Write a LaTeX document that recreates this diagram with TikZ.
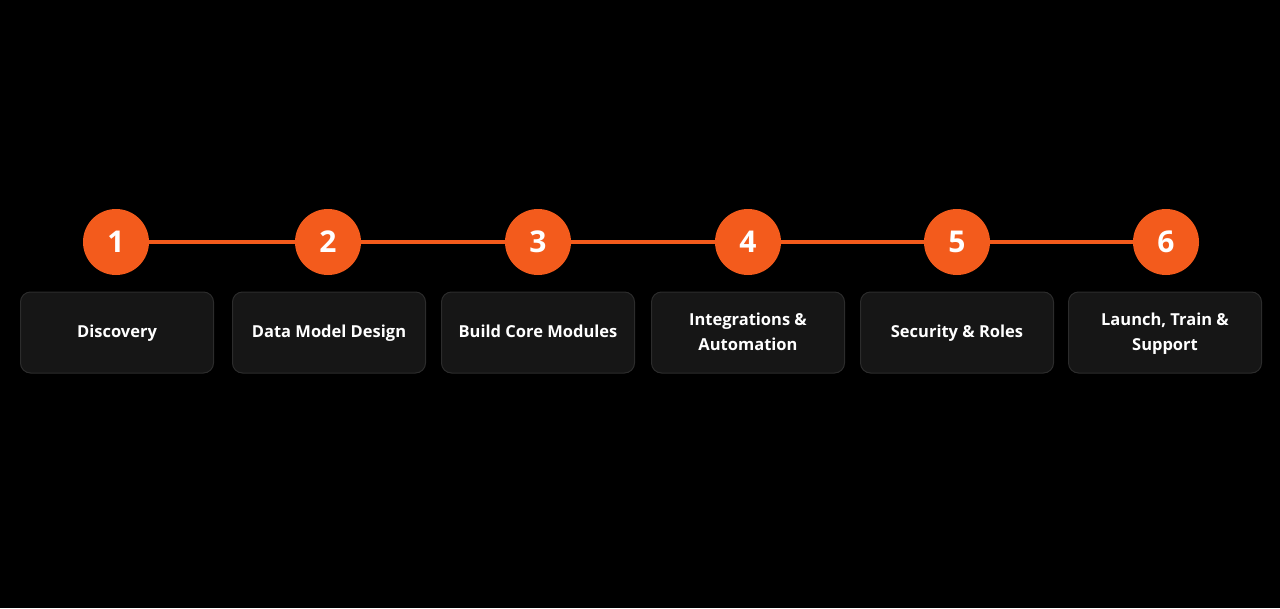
\documentclass[tikz,border=0pt]{standalone}
\usepackage{fontspec}
\setmainfont{Open Sans}
\definecolor{orng}{HTML}{F35B1C}
\definecolor{boxbg}{HTML}{161616}
\definecolor{boxln}{HTML}{2C2C2C}
\newcommand{\lnx}[1]{\strut #1}
\begin{document}
\begin{tikzpicture}[x=1pt,y=-1pt,
  stepnum/.style={circle,fill=orng,minimum size=66pt,inner sep=0pt,text=white,font=\fontsize{30}{30}\selectfont\bfseries},
  stepbox/.style={rectangle,rounded corners=10pt,fill=boxbg,draw=boxln,line width=1pt,minimum width=193pt,minimum height=81pt,text=white,align=center,inner sep=0pt,font=\fontsize{16.5}{25}\selectfont\bfseries},
  link/.style={orng,line width=4pt}]
\fill[black] (0,0) rectangle (1280,608);
\useasboundingbox (0,0) rectangle (1280,608);
\foreach \i/\x in {1/116,2/328,3/538,4/748,5/957,6/1166}{
  \node[stepnum] (c\i) at (\x,242) {\i};
}
\draw[link] (c1) -- (c2); \draw[link] (c2) -- (c3); \draw[link] (c3) -- (c4);
\draw[link] (c4) -- (c5); \draw[link] (c5) -- (c6);
\node[stepbox] (b1) at (117,332.5) {\lnx{Discovery}};
\node[stepbox] (b2) at (329,332.5) {\lnx{Data Model Design}};
\node[stepbox] (b3) at (538,332.5) {\lnx{Build Core Modules}};
\node[stepbox] (b4) at (748,332.5) {\lnx{Integrations \&}\\\lnx{Automation}};
\node[stepbox] (b5) at (957,332.5) {\lnx{Security \& Roles}};
\node[stepbox] (b6) at (1165,332.5) {\lnx{Launch, Train \&}\\\lnx{Support}};
\end{tikzpicture}
\end{document}
